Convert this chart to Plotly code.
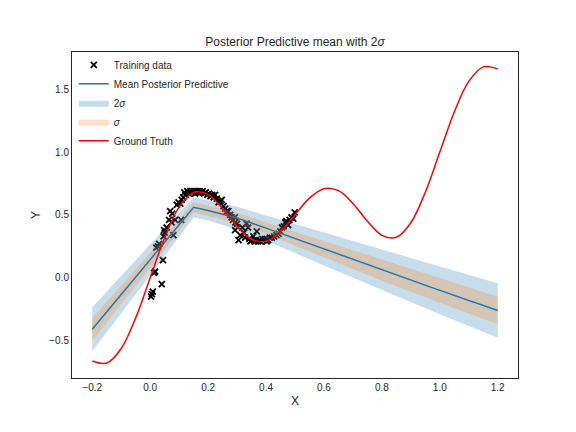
import plotly.graph_objects as go

# training data
train_x = [0.003, 0.006, 0.009, 0.013, 0.017, 0.040, 0.044, 0.021, 0.027, 0.031,
           0.046, 0.050, 0.048, 0.057, 0.080, 0.065, 0.074, 0.086, 0.107, 0.069,
           0.076, 0.092, 0.098, 0.104, 0.109, 0.118, 0.114, 0.122,
           0.128, 0.134, 0.139, 0.144, 0.150, 0.155, 0.160, 0.166, 0.171, 0.176,
           0.181, 0.186, 0.192, 0.197, 0.203, 0.208, 0.214, 0.219, 0.224, 0.230,
           0.236, 0.242, 0.247,
           0.253, 0.259, 0.265, 0.270, 0.276, 0.281, 0.286, 0.292, 0.294, 0.300,
           0.293, 0.305, 0.311, 0.318, 0.324, 0.328, 0.333, 0.338,
           0.342, 0.346, 0.351, 0.356, 0.360, 0.365, 0.368, 0.372, 0.377, 0.382,
           0.387, 0.392, 0.397, 0.402, 0.407, 0.413, 0.420, 0.428, 0.436, 0.443,
           0.449, 0.455, 0.461, 0.466, 0.470, 0.476, 0.481, 0.488, 0.494, 0.499]
train_y = [-0.15, -0.13, -0.11, 0.04, 0.05, -0.05, 0.14, 0.24, 0.25, 0.27,
           0.33, 0.36, 0.38, 0.40, 0.34, 0.46, 0.44, 0.46, 0.46, 0.53,
           0.51, 0.58, 0.60, 0.59, 0.62, 0.68, 0.64, 0.66,
           0.69, 0.67, 0.69, 0.68, 0.69, 0.67, 0.69, 0.68, 0.69, 0.68,
           0.69, 0.67, 0.68, 0.66, 0.67, 0.65, 0.66, 0.64, 0.66, 0.63,
           0.60, 0.61, 0.62,
           0.57, 0.55, 0.53, 0.53, 0.50, 0.48, 0.46, 0.48, 0.44, 0.43,
           0.38, 0.30, 0.34, 0.40, 0.36, 0.32, 0.43, 0.40,
           0.31, 0.29, 0.30, 0.33, 0.29, 0.30, 0.37, 0.29, 0.30, 0.29,
           0.31, 0.30, 0.31, 0.29, 0.30, 0.32, 0.32, 0.33, 0.34, 0.35,
           0.37, 0.40, 0.41, 0.44, 0.45, 0.42, 0.46, 0.48, 0.47, 0.52]

# posterior predictive mean and band half-widths
pred_x = [-0.2, 0.0, 0.15, 0.2, 0.3, 0.4, 0.6, 0.8, 1.0, 1.2]
pred_mean = [-0.41, 0.14, 0.56, 0.535, 0.475, 0.395, 0.228, 0.062, -0.10, -0.26]
half_sigma = [0.09, 0.06, 0.04, 0.04, 0.042, 0.045, 0.065, 0.086, 0.098, 0.11]
half_2sigma = [0.175, 0.12, 0.08, 0.08, 0.09, 0.10, 0.13, 0.16, 0.19, 0.217]

# ground truth curve
gt_x = [-0.20, -0.15, -0.10, -0.05, 0.00, 0.05, 0.10, 0.15, 0.20, 0.25,
        0.30, 0.35, 0.40, 0.45, 0.50, 0.55, 0.60, 0.65, 0.70, 0.75,
        0.80, 0.85, 0.90, 0.95, 1.00, 1.05, 1.10, 1.15, 1.20]
gt_y = [-0.662, -0.678, -0.562, -0.319, 0.0, 0.319, 0.562, 0.678, 0.662, 0.55,
        0.409, 0.307, 0.291, 0.366, 0.5, 0.634, 0.709, 0.693, 0.591, 0.45,
        0.338, 0.322, 0.438, 0.681, 1.0, 1.319, 1.562, 1.678, 1.662]

x_ticks = [-0.2, 0.0, 0.2, 0.4, 0.6, 0.8, 1.0, 1.2]
y_ticks = [-0.5, 0.0, 0.5, 1.0, 1.5]

TEXT = "#262626"
FONT = "Liberation Sans, Arial, sans-serif"


def band(half):
    upper = [m + h for m, h in zip(pred_mean, half)]
    lower = [m - h for m, h in zip(pred_mean, half)]
    return pred_x + pred_x[::-1], upper + lower[::-1]


fig = go.Figure()

# draw order like matplotlib zorder: scatter, fills, then lines on top
fig.add_trace(go.Scatter(
    x=train_x, y=train_y, mode="markers", name="Training data",
    marker=dict(symbol="x-thin", size=6, color="black",
                line=dict(color="black", width=1.8)),
    legendrank=1,
))
bx, by = band(half_2sigma)
fig.add_trace(go.Scatter(
    x=bx, y=by, mode="lines", fill="toself", name="2<i>σ</i>",
    line=dict(width=0), fillcolor="rgba(31,119,180,0.25)", legendrank=3,
))
bx, by = band(half_sigma)
fig.add_trace(go.Scatter(
    x=bx, y=by, mode="lines", fill="toself", name="<i>σ</i>",
    line=dict(width=0), fillcolor="rgba(255,127,14,0.25)", legendrank=4,
))
fig.add_trace(go.Scatter(
    x=pred_x, y=pred_mean, mode="lines", name="Mean Posterior Predictive",
    line=dict(color="#1f77b4", width=1.5), legendrank=2,
))
fig.add_trace(go.Scatter(
    x=gt_x, y=gt_y, mode="lines", name="Ground Truth", line_shape="spline",
    line=dict(color="red", width=1.5), legendrank=5,
))

# the page adds an 8px body margin, so margins are shifted to compensate
fig.update_layout(
    width=576, height=432,
    margin=dict(l=64, r=66, t=44, b=62),
    paper_bgcolor="white", plot_bgcolor="white",
    font=dict(family=FONT, size=10, color=TEXT),
    title=dict(text="Posterior Predictive mean with 2<i>σ</i>",
               x=0.5, xref="paper", y=1 - 34 / 432, yref="container",
               yanchor="middle", font=dict(size=12, color=TEXT)),
    legend=dict(x=0.004, y=1.005, xanchor="left", yanchor="top",
                bgcolor="rgba(0,0,0,0)", font=dict(size=10),
                tracegroupgap=0, itemwidth=30),
    showlegend=True,
)
fig.update_xaxes(
    range=[-0.27, 1.27], tickvals=x_ticks, tickformat=".1f",
    showgrid=False, zeroline=False, showline=True, mirror=True,
    linecolor=TEXT, linewidth=1, ticks="",
    title=dict(text="X", standoff=4),
)
fig.update_yaxes(
    range=[-0.797, 1.796], tickvals=y_ticks, tickformat=".1f",
    showgrid=False, zeroline=False, showline=True, mirror=True,
    linecolor=TEXT, linewidth=1, ticks="",
    title=dict(text="Y", standoff=6),
)

fig.write_html("out.html")
